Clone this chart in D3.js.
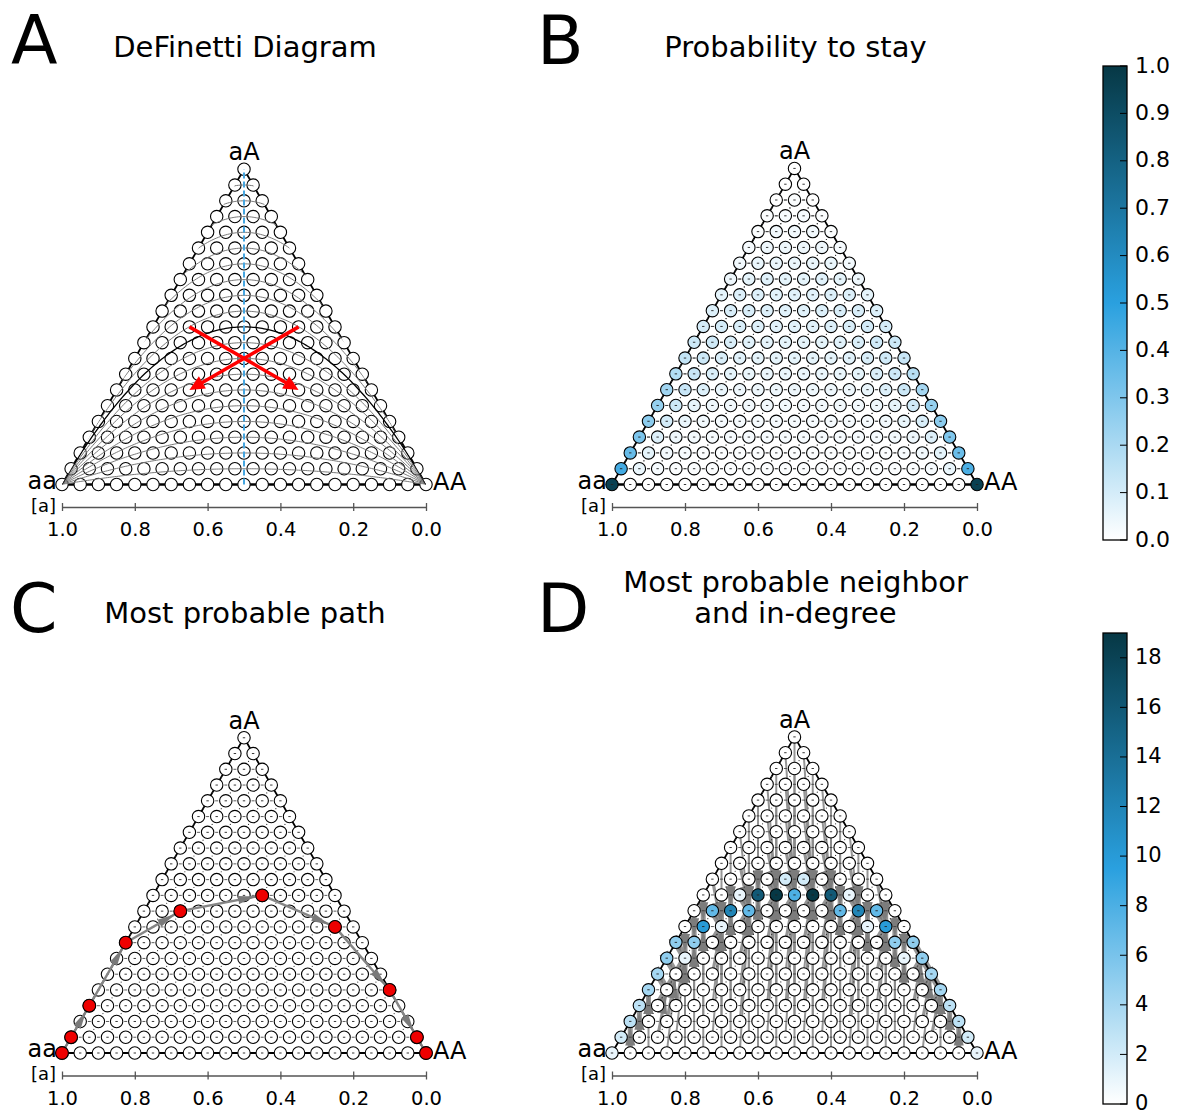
<!DOCTYPE html>
<html>
<head>
<meta charset="utf-8">
<script src="https://cdn.jsdelivr.net/npm/d3@7"></script>
<style>
  body { margin: 0; background: #fff; }
  text { font-family: "DejaVu Sans", sans-serif; fill: #000; }
</style>
</head>
<body>
<svg id="fig" width="1181" height="1115"></svg>
<script>
// ---- population of N diploid individuals: states (n_aA = k, n_AA = j) ----
const N = 20;

const axisTicks = [1.0, 0.8, 0.6, 0.4, 0.2, 0.0];
const cornerLabels = { left: "aa", top: "aA", right: "AA" };
const axisLabel = "[a]";
const panelLetters = ["A", "B", "C", "D"];
const panelTitles = [
  ["DeFinetti Diagram"],
  ["Probability to stay"],
  ["Most probable path"],
  ["Most probable neighbor", "and in-degree"]
];

// Panel A: peak heterozygosity of the reference curves (black = Hardy-Weinberg)
const curveLevels = [0.05, 0.10, 0.15, 0.20, 0.25, 0.30, 0.35, 0.40, 0.45, 0.50,
                     0.55, 0.60, 0.65, 0.70, 0.75, 0.80, 0.85, 0.90, 0.95];
const hwLevel = 0.50;
// Panel A: red arrows in ([a], heterozygote fraction) coordinates
const arrowStarts = [[0.35, 0.50], [0.65, 0.50]];
const arrowEnds   = [[0.65, 0.30], [0.35, 0.30]];
const symmetryLine = 0.5;

// Panel B: probability to stay in each state, one array per row k (j = 0..N-k)
const stayProb = [
  [0.96, 0, 0, 0, 0, 0, 0, 0, 0, 0, 0, 0, 0, 0, 0, 0, 0, 0, 0, 0, 0.96],
  [0.44, 0.05, 0.02, 0.01, 0.01, 0.01, 0.01, 0.01, 0.01, 0.01, 0.01, 0.01, 0.01, 0.01, 0.01, 0.01, 0.01, 0.02, 0.05, 0.42],
  [0.36, 0.06, 0.03, 0.02, 0.01, 0.01, 0.01, 0.01, 0.01, 0.01, 0.01, 0.01, 0.01, 0.01, 0.01, 0.02, 0.03, 0.06, 0.35],
  [0.31, 0.08, 0.04, 0.03, 0.02, 0.02, 0.02, 0.02, 0.02, 0.02, 0.02, 0.02, 0.02, 0.02, 0.03, 0.04, 0.08, 0.30],
  [0.27, 0.10, 0.05, 0.03, 0.02, 0.02, 0.02, 0.02, 0.02, 0.02, 0.02, 0.02, 0.02, 0.03, 0.05, 0.09, 0.27],
  [0.25, 0.12, 0.06, 0.04, 0.03, 0.03, 0.03, 0.03, 0.03, 0.03, 0.03, 0.03, 0.04, 0.06, 0.11, 0.25],
  [0.22, 0.13, 0.08, 0.05, 0.04, 0.04, 0.04, 0.04, 0.04, 0.04, 0.04, 0.05, 0.08, 0.12, 0.21],
  [0.18, 0.13, 0.09, 0.06, 0.05, 0.05, 0.05, 0.05, 0.05, 0.05, 0.06, 0.09, 0.12, 0.17],
  [0.14, 0.12, 0.09, 0.07, 0.06, 0.06, 0.06, 0.06, 0.06, 0.07, 0.09, 0.11, 0.13],
  [0.12, 0.11, 0.09, 0.07, 0.06, 0.06, 0.06, 0.06, 0.07, 0.09, 0.11, 0.12],
  [0.10, 0.10, 0.09, 0.08, 0.07, 0.07, 0.07, 0.08, 0.09, 0.10, 0.10],
  [0.08, 0.09, 0.09, 0.08, 0.07, 0.07, 0.08, 0.09, 0.09, 0.08],
  [0.06, 0.08, 0.08, 0.07, 0.07, 0.07, 0.08, 0.08, 0.06],
  [0.04, 0.06, 0.07, 0.06, 0.06, 0.07, 0.06, 0.04],
  [0.03, 0.05, 0.05, 0.05, 0.05, 0.05, 0.03],
  [0.02, 0.04, 0.04, 0.04, 0.04, 0.02],
  [0.01, 0.03, 0.03, 0.03, 0.01],
  [0.01, 0.02, 0.02, 0.01],
  [0.00, 0.01, 0.00],
  [0.00, 0.00],
  [0.00]
];

// Panel C: most probable path from aa to AA, as [k, j]
const pathStates = [[0, 0], [1, 0], [3, 0], [7, 0], [9, 2], [10, 6], [8, 11], [4, 16], [1, 19], [0, 20]];

// Panel D: in-degree of states in the most-probable-neighbor graph, [k, j, degree]
const inDegree = [
  [0, 0, 1], [0, 20, 1],
  [1, 0, 2], [1, 19, 2],
  [2, 0, 3], [2, 18, 3],
  [3, 0, 3], [3, 17, 3],
  [4, 0, 4], [4, 16, 4],
  [5, 0, 4], [5, 15, 4],
  [6, 0, 5], [6, 1, 1], [6, 13, 1], [6, 14, 5],
  [7, 0, 5], [7, 1, 5], [7, 12, 5], [7, 13, 5],
  [8, 1, 10], [8, 2, 1], [8, 10, 1], [8, 11, 10],
  [9, 1, 7], [9, 2, 12], [9, 3, 7], [9, 8, 7], [9, 9, 12], [9, 10, 7],
  [10, 2, 1], [10, 3, 16], [10, 4, 19], [10, 5, 8], [10, 6, 19], [10, 7, 16], [10, 8, 1],
  [11, 4, 2], [11, 5, 2]
];
// Panel D: row of the most probable neighbor for each allele column c = 2j + k
const neighborRow = [0, 1, 2, 3, 4, 4, 5, 6, 6, 7, 8, 8, 8, 9, 9, 9, 10, 10, 10, 10, 10,
                     10, 10, 10, 10, 9, 9, 9, 8, 8, 8, 7, 6, 6, 5, 4, 4, 3, 2, 1, 0];

const stayTicks = [0.0, 0.1, 0.2, 0.3, 0.4, 0.5, 0.6, 0.7, 0.8, 0.9, 1.0];
const degreeTicks = [0, 2, 4, 6, 8, 10, 12, 14, 16, 18];
const degreeMax = 19;

// ---------------------------------------------------------------------------
const svg = d3.select("#fig");
const R = 6.2;
const blues = d3.piecewise(d3.interpolateRgb, ["#ffffff", "#2aa0df", "#063845"]);

const states = [];
for (let k = 0; k <= N; k++)
  for (let j = 0; j <= N - k; j++)
    states.push({ k, j, a: 1 - (j + k / 2) / N, h: k / N });
const stateAt = (k, j) => states.find(s => s.k === k && s.j === j);

const layout = [
  { x0: 62,  x1: 426, yb: 484.5 },
  { x0: 612, x1: 977, yb: 484.5 },
  { x0: 62,  x1: 426, yb: 1053 },
  { x0: 612, x1: 977, yb: 1053 }
];

const panels = layout.map((p, i) => {
  const H = (p.x1 - p.x0) * Math.sqrt(3) / 2;
  const x = d3.scaleLinear().domain([1, 0]).range([p.x0, p.x1]);
  const y = d3.scaleLinear().domain([0, 1]).range([p.yb, p.yb - H]);
  const g = svg.append("g").attr("class", "panel-" + panelLetters[i]);
  return { ...p, H, x, y, g, i };
});

function frame(P) {
  const { g, x, y } = P;
  // axis of allele frequency [a]
  const ax = g.append("g")
    .attr("transform", `translate(0,${P.yb + 22.5})`)
    .call(d3.axisBottom(x).tickValues(axisTicks).tickFormat(d3.format(".1f"))
      .tickSize(4).tickSizeOuter(0));
  ax.select(".domain").attr("stroke", "#555").attr("stroke-width", 1.3);
  ax.selectAll(".tick line").attr("stroke", "#555").attr("stroke-width", 1.3)
    .attr("y1", -4).attr("y2", 4);
  ax.selectAll(".tick text").attr("y", 29).attr("dy", 0)
    .style("font-family", "DejaVu Sans, sans-serif").style("font-size", "19.5px").attr("fill", "#000");

  g.append("text").attr("x", P.x0 - 6).attr("y", P.yb + 27).attr("text-anchor", "end")
    .style("font-size", "18px").text(axisLabel);
  g.append("text").attr("x", P.x0 - 5).attr("y", P.yb + 4).attr("text-anchor", "end")
    .style("font-size", "24px").text(cornerLabels.left);
  g.append("text").attr("x", P.x1 + 7).attr("y", P.yb + 5.5).attr("text-anchor", "start")
    .style("font-size", "24px").text(cornerLabels.right);
  g.append("text").attr("x", x(0.5)).attr("y", y(1) - 9).attr("text-anchor", "middle")
    .style("font-size", "24px").text(cornerLabels.top);

  // title and panel letter
  const t = panelTitles[P.i];
  const cx = (P.x0 + P.x1) / 2 + 1;
  const base = P.i < 2 ? 57 : 623;
  t.forEach((line, li) => {
    g.append("text").attr("x", cx).attr("y", base - (t.length - 1 - li) * 31)
      .attr("text-anchor", "middle").style("font-size", "29px").text(line);
  });
  const lx = [11, 537, 10, 537][P.i];
  g.append("text").attr("x", lx).attr("y", P.i < 2 ? 64 : 632)
    .style("font-size", "68px").text(panelLetters[P.i]);
}

function outline(P, layer) {
  const { x, y } = P;
  layer.append("path")
    .attr("d", d3.line()([[x(1), y(0)], [x(0.5), y(1)], [x(0), y(0)]]) + "Z")
    .attr("fill", "none").attr("stroke", "#000").attr("stroke-width", 1.8)
    .attr("stroke-linejoin", "round");
}

function circles(P, layer, fillFn) {
  layer.selectAll("circle.state").data(states).join("circle")
    .attr("class", "state")
    .attr("cx", d => P.x(d.a)).attr("cy", d => P.y(d.h)).attr("r", R)
    .attr("fill", fillFn).attr("stroke", "#000").attr("stroke-width", 1.1);
}

// faint transition marks between neighbouring states
function texture(P, layer) {
  const dx = (P.x1 - P.x0) / N;
  layer.selectAll("line.self").data(states).join("line")
    .attr("x1", d => P.x(d.a) - 1.2).attr("x2", d => P.x(d.a) + 1.2)
    .attr("y1", d => P.y(d.h)).attr("y2", d => P.y(d.h))
    .attr("stroke", "#222").attr("stroke-width", 0.9);
  const hor = states.filter(s => s.j < N - s.k && s.k > 0 && s.k < N - 1);
  layer.selectAll("line.hmid").data(hor).join("line")
    .attr("x1", d => P.x(d.a) + dx / 2 - 1.5).attr("x2", d => P.x(d.a) + dx / 2 + 1.5)
    .attr("y1", d => P.y(d.h)).attr("y2", d => P.y(d.h))
    .attr("stroke", "#333").attr("stroke-width", 0.8);
  const diag = states.filter(s => s.k < N - 1 && s.j < N - s.k && s.k > 0);
  layer.selectAll("circle.dmid").data(diag).join("circle")
    .attr("cx", d => P.x(d.a) + dx / 4).attr("cy", d => P.y(d.h) - (P.H / N) / 2)
    .attr("r", 0.6).attr("fill", "#333");
}

function wedge(x1, y1, x2, y2, shrink, len, hw) {
  const L = Math.hypot(x2 - x1, y2 - y1);
  const ux = (x2 - x1) / L, uy = (y2 - y1) / L;
  const tx = x2 - ux * shrink, ty = y2 - uy * shrink;
  const bx = tx - ux * len, by = ty - uy * len;
  return { tip: [tx, ty], base: [bx, by],
    pts: [[tx, ty], [bx - uy * hw, by + ux * hw], [bx + uy * hw, by - ux * hw]] };
}

// ---------------- Panel A ----------------
{
  const P = panels[0];
  const { g, x, y } = P;
  frame(P);
  g.append("clipPath").attr("id", "triA").append("path")
    .attr("d", d3.line()([[x(1), y(0)], [x(0.5), y(1)], [x(0), y(0)]]) + "Z");
  const ps = d3.range(0, 1.0001, 0.005);
  const curve = lv => d3.line().x(p => x(p)).y(p => y(4 * lv * p * (1 - p)))(ps);

  outline(P, g);
  g.append("line").attr("x1", x(1)).attr("x2", x(0)).attr("y1", y(0)).attr("y2", y(0))
    .attr("stroke", "#000").attr("stroke-width", 1.8);
  circles(P, g, () => "#fff");

  const cg = g.append("g").attr("clip-path", "url(#triA)");
  cg.selectAll("path.lv").data(curveLevels.filter(l => l !== hwLevel)).join("path")
    .attr("d", curve).attr("fill", "none").attr("stroke", "#7a7a7a").attr("stroke-width", 1);
  cg.append("path").attr("d", curve(hwLevel)).attr("fill", "none")
    .attr("stroke", "#000").attr("stroke-width", 1.3);

  g.append("line").attr("x1", x(symmetryLine)).attr("x2", x(symmetryLine))
    .attr("y1", y(0)).attr("y2", y(1))
    .attr("stroke", "#46a6e0").attr("stroke-width", 2).attr("stroke-dasharray", "6,3");

  arrowStarts.forEach((s, i) => {
    const e = arrowEnds[i];
    const w = wedge(x(s[0]), y(s[1]), x(e[0]), y(e[1]), 0, 15, 7);
    g.append("line").attr("x1", x(s[0])).attr("y1", y(s[1]))
      .attr("x2", w.base[0] + (w.tip[0] - w.base[0]) * 0.2)
      .attr("y2", w.base[1] + (w.tip[1] - w.base[1]) * 0.2)
      .attr("stroke", "#ff0000").attr("stroke-width", 3.5);
    g.append("polygon").attr("points", w.pts.join(" ")).attr("fill", "#ff0000");
  });
}

// ---------------- Panel B ----------------
{
  const P = panels[1];
  frame(P);
  texture(P, P.g);
  outline(P, P.g);
  P.g.append("line").attr("x1", P.x(1)).attr("x2", P.x(0)).attr("y1", P.y(0)).attr("y2", P.y(0))
    .attr("stroke", "#000").attr("stroke-width", 1.8);
  circles(P, P.g, d => blues(stayProb[d.k][d.j]));
  texture(P, P.g.append("g").attr("class", "marks"));
}

// ---------------- Panel C ----------------
{
  const P = panels[2];
  const { g, x, y } = P;
  frame(P);
  outline(P, g);
  g.append("line").attr("x1", x(1)).attr("x2", x(0)).attr("y1", y(0)).attr("y2", y(0))
    .attr("stroke", "#000").attr("stroke-width", 1.8);
  circles(P, g, () => "#fff");
  texture(P, g.append("g"));
  const pts = pathStates.map(([k, j]) => stateAt(k, j)).map(s => [x(s.a), y(s.h)]);
  g.append("path").attr("d", d3.line()(pts)).attr("fill", "none")
    .attr("stroke", "#858585").attr("stroke-width", 2.4).attr("stroke-linejoin", "round");
  for (let i = 1; i < pts.length; i++) {
    const w = wedge(pts[i - 1][0], pts[i - 1][1], pts[i][0], pts[i][1], R, 18, 4);
    g.append("polygon").attr("points", w.pts.join(" ")).attr("fill", "#7a7a7a");
  }
  g.selectAll("circle.path").data(pts).join("circle")
    .attr("cx", d => d[0]).attr("cy", d => d[1]).attr("r", R + 0.2)
    .attr("fill", "#ee0000").attr("stroke", "#000").attr("stroke-width", 1.1);
}

// ---------------- Panel D ----------------
{
  const P = panels[3];
  const { g, x, y } = P;
  frame(P);
  const deg = new Map(inDegree.map(([k, j, v]) => [k + "," + j, v]));
  const edges = [];
  states.forEach(s => {
    const c = 2 * s.j + s.k;
    const kt = neighborRow[c];
    const jt = Math.max(0, Math.min(N - kt, Math.round((c - kt) / 2)));
    if (kt === s.k && jt === s.j) return;
    edges.push({ s, t: stateAt(kt, jt), rows: Math.abs(kt - s.k) });
  });
  // nearer neighbours carry more probability: drawn wider
  const edgeWidth = d => d.rows <= 1 ? 7 : d.rows === 2 ? 5 : d.rows === 3 ? 3.2 : 2;
  const eg = g.append("g");
  eg.selectAll("line").data(edges).join("line")
    .attr("x1", d => x(d.s.a)).attr("y1", d => y(d.s.h))
    .attr("x2", d => x(d.t.a)).attr("y2", d => y(d.t.h))
    .attr("stroke", "#8a8a8a").attr("stroke-width", edgeWidth).attr("stroke-opacity", 0.9);
  eg.selectAll("polygon").data(edges).join("polygon")
    .attr("points", d => wedge(x(d.s.a), y(d.s.h), x(d.t.a), y(d.t.h), R, 18, 5).pts.join(" "))
    .attr("fill", "#7c7c7c");
  outline(P, g);
  g.append("line").attr("x1", x(1)).attr("x2", x(0)).attr("y1", y(0)).attr("y2", y(0))
    .attr("stroke", "#000").attr("stroke-width", 1.8);
  circles(P, g, d => blues((deg.get(d.k + "," + d.j) || 0) / degreeMax));
  texture(P, g.append("g"));
}

// ---------------- colour bars ----------------
function colorbar(top, bottom, domain, ticks, fmt, id, fontPx) {
  const x = 1103, w = 24;
  const s = d3.scaleLinear().domain(domain).range([bottom, top]);
  const grad = svg.append("defs").append("linearGradient").attr("id", id)
    .attr("x1", 0).attr("x2", 0).attr("y1", 1).attr("y2", 0);
  d3.range(0, 1.0001, 0.05).forEach(t =>
    grad.append("stop").attr("offset", t).attr("stop-color", blues(t)));
  const g = svg.append("g");
  g.append("rect").attr("x", x).attr("y", top).attr("width", w).attr("height", bottom - top)
    .attr("fill", `url(#${id})`).attr("stroke", "#000").attr("stroke-width", 1.3);
  g.selectAll("line").data(ticks).join("line")
    .attr("x1", x + w - 7).attr("x2", x + w).attr("y1", s).attr("y2", s)
    .attr("stroke", "#000").attr("stroke-width", 1);
  g.selectAll("text").data(ticks).join("text")
    .attr("x", x + w + 8).attr("y", s).attr("dy", "0.3em")
    .style("font-size", fontPx + "px").text(fmt);
}
colorbar(66, 540, [0, 1], stayTicks, d3.format(".1f"), "cbStay", 22);
colorbar(633, 1104, [0, degreeMax], degreeTicks, d3.format("d"), "cbDeg", 21);
</script>
</body>
</html>
